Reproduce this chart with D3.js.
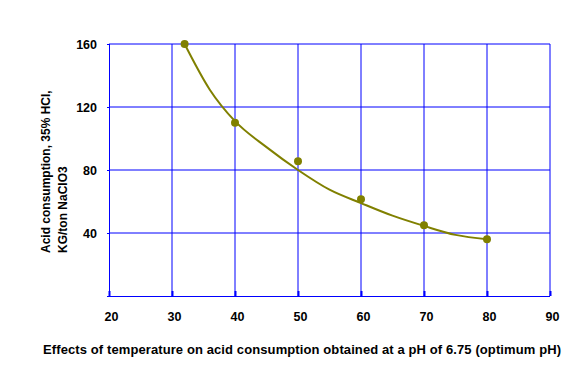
<!DOCTYPE html>
<html>
<head>
<meta charset="utf-8">
<script src="https://cdn.jsdelivr.net/npm/d3@7"></script>
<style>
  body { margin: 0; background: #fff; }
  text { font-family: "Liberation Sans", Arial, sans-serif; font-weight: bold; font-size: 12px; fill: #000; }
</style>
</head>
<body>
<svg id="chart" width="586" height="377"></svg>
<script>
// measured points
var temps = [32, 40, 50, 60, 70, 80];
var acid = [160, 110, 85.5, 61.5, 45, 36];

// fitted trend line
var trendX = [32, 36, 40, 45, 50, 55, 60, 65, 70, 75, 80];
var trendY = [160, 131, 111, 94.5, 80, 67.5, 59, 51, 44.5, 38.8, 36];

var xTicks = [20, 30, 40, 50, 60, 70, 80, 90];
var yTicks = [40, 80, 120, 160];

var xLabel = "Effects of temperature on acid consumption obtained at a pH of 6.75 (optimum pH)";
var yLabel = ["Acid consumption, 35% HCl,", "KG/ton NaClO3"];

var svg = d3.select('#chart');
var blue = '#0000ff', olive = '#808000';

var x = d3.scaleLinear().domain([20, 90]).range([109, 550]);
var y = d3.scaleLinear().domain([0, 160]).range([296, 44]);

// grid
svg.append('g').selectAll('line.v')
  .data(xTicks.slice(1))
  .enter().append('line')
  .attr('x1', function (d) { return x(d); })
  .attr('x2', function (d) { return x(d); })
  .attr('y1', y(160)).attr('y2', y(0))
  .style('stroke', blue).style('stroke-width', 1);

svg.append('g').selectAll('line.h')
  .data(yTicks)
  .enter().append('line')
  .attr('x1', x(20)).attr('x2', x(90))
  .attr('y1', function (d) { return y(d); })
  .attr('y2', function (d) { return y(d); })
  .style('stroke', blue).style('stroke-width', 1);

// axes
var xAxis = d3.axisBottom(x).tickValues(xTicks).tickSize(-5).tickPadding(16);
var gx = svg.append('g').attr('transform', 'translate(0,' + y(0) + ')').call(xAxis);
gx.select('.domain').style('stroke', blue).attr('d', 'M' + x(20) + ',0.5H' + x(90));
gx.selectAll('.tick line').style('stroke', blue).style('stroke-width', 2);
gx.selectAll('text').attr('dx', 2);

var yAxis = d3.axisLeft(y).tickValues([0].concat(yTicks)).tickSize(2).tickPadding(10)
  .tickFormat(function (d) { return d === 0 ? '' : d; });
var gy = svg.append('g').attr('transform', 'translate(' + x(20) + ',0)').call(yAxis);
gy.select('.domain').style('stroke', blue).attr('d', 'M0.5,' + y(160) + 'V' + y(0));
gy.selectAll('.tick line').style('stroke', blue);
svg.selectAll('.tick text')
  .style('font-family', '"Liberation Sans", Arial, sans-serif')
  .style('font-weight', 'bold').style('font-size', '12.5px').style('fill', '#000');

// trend line
var line = d3.line()
  .x(function (d) { return x(d[0]); })
  .y(function (d) { return y(d[1]); })
  .curve(d3.curveMonotoneX);

svg.append('path')
  .datum(d3.zip(trendX, trendY))
  .attr('d', line)
  .style('fill', 'none')
  .style('stroke', olive)
  .style('stroke-width', 2);

// markers
svg.append('g').selectAll('circle')
  .data(d3.zip(temps, acid))
  .enter().append('circle')
  .attr('cx', function (d) { return x(d[0]); })
  .attr('cy', function (d) { return y(d[1]); })
  .attr('r', 4)
  .style('fill', olive);

// labels
svg.append('text')
  .attr('x', 302).attr('y', 354)
  .attr('text-anchor', 'middle')
  .style('font-size', '13px')
  .attr('textLength', 518)
  .attr('lengthAdjust', 'spacing')
  .text(xLabel);

var yl = svg.append('g').attr('transform', 'translate(50,253) rotate(-90)');
yl.selectAll('text')
  .data(yLabel)
  .enter().append('text')
  .attr('x', 0)
  .attr('y', function (d, i) { return i * 17; })
  .attr('text-anchor', 'start')
  .text(function (d) { return d; });
</script>
</body>
</html>
